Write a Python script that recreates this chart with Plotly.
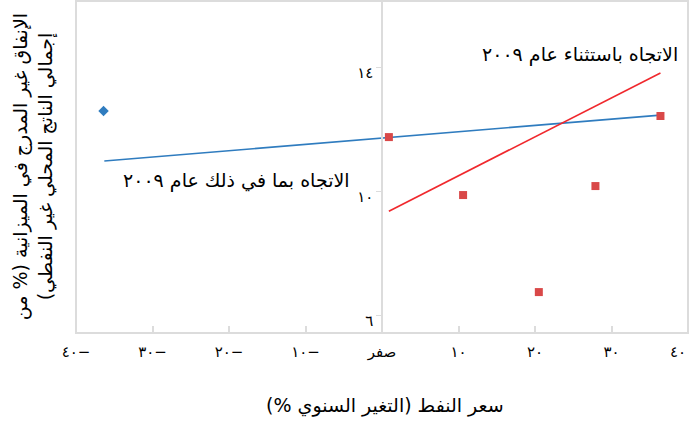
import plotly.graph_objects as go

# Data
x_2009 = [-36.4]
y_2009 = [12.58]
x_other = [0.9, 10.6, 20.5, 27.9, 36.4]
y_other = [11.74, 9.87, 6.74, 10.16, 12.42]

# Trend lines (endpoints)
trend_all_x = [-36.3, 36.4]
trend_all_y = [10.97, 12.45]
trend_ex_x = [0.9, 36.4]
trend_ex_y = [9.35, 13.81]

x_tickvals = [-40, -30, -20, -10, 0, 10, 20, 30, 40]
x_ticktext = ["٤٠−", "٣٠−", "٢٠−", "١٠−", "صفر", "١٠", "٢٠", "٣٠", "٤٠"]
y_tickvals = [6, 10, 14]
y_ticktext = ["٦", "١٠", "١٤"]

RLM = "\u200f"
FONT = "DejaVu Sans, sans-serif"

# last tick label is drawn right-aligned at the edge so it stays inside the page
axis_ticktext = x_ticktext[:-1] + [""]

fig = go.Figure()
fig.add_trace(go.Scatter(x=trend_all_x, y=trend_all_y, mode="lines",
                         line=dict(color="#2f7cbf", width=1.6), hoverinfo="skip"))
fig.add_trace(go.Scatter(x=trend_ex_x, y=trend_ex_y, mode="lines",
                         line=dict(color="#f0282d", width=1.6), hoverinfo="skip"))
fig.add_trace(go.Scatter(x=x_2009, y=y_2009, mode="markers",
                         marker=dict(symbol="diamond", size=8, color="#2f7cbf")))
fig.add_trace(go.Scatter(x=x_other, y=y_other, mode="markers",
                         marker=dict(symbol="square", size=8, color="#d94848")))

fig.add_annotation(x=38.9, y=14.39, xref="x", yref="y", showarrow=False,
                   text="الاتجاه باستثناء عام ٢٠٠٩", xanchor="right",
                   font=dict(size=19, color="black", family=FONT))
fig.add_annotation(x=-3.9, y=10.35, xref="x", yref="y", showarrow=False,
                   text="الاتجاه بما في ذلك عام ٢٠٠٩", xanchor="right",
                   font=dict(size=19, color="black", family=FONT))
fig.add_annotation(x=-0.07, y=0.5, xref="paper", yref="paper", showarrow=False,
                   textangle=-90, xanchor="center", yanchor="middle",
                   text=RLM + "الإنفاق غير المدرج في الميزانية (% من" + RLM + "<br>" + RLM
                        + "إجمالي الناتج المحلي غير النفطي)" + RLM,
                   font=dict(size=19, color="black", family=FONT))
fig.add_annotation(x=0.505, y=-0.217, xref="paper", yref="paper", showarrow=False,
                   xanchor="center", yanchor="middle",
                   text=RLM + "سعر النفط (التغير السنوي %)" + RLM,
                   font=dict(size=19, color="black", family=FONT))
fig.add_annotation(x=x_tickvals[-1], y=-0.058, xref="x", yref="paper", showarrow=False,
                   xanchor="right", yanchor="middle", xshift=0,
                   text=x_ticktext[-1],
                   font=dict(size=15, color="black", family=FONT))

fig.add_shape(type="rect", xref="paper", yref="paper", x0=0, x1=1, y0=0, y1=1,
              line=dict(color="#dcdcdc", width=2), layer="below")

fig.update_layout(
    width=690, height=423,
    margin=dict(l=76, r=2, t=1, b=90),
    paper_bgcolor="white", plot_bgcolor="white",
    showlegend=False,
    font=dict(family=FONT, size=14, color="black"),
    xaxis=dict(range=[-40, 40], tickvals=x_tickvals, ticktext=axis_ticktext,
               automargin=False, ticklabeloverflow="allow",
               showgrid=False, zeroline=False, showline=False,
               ticks="inside", ticklen=7, tickcolor="#dcdcdc", tickwidth=1.5,
               ticklabelstandoff=8,
               tickfont=dict(size=15)),
    yaxis=dict(range=[5.42, 16.13], tickvals=y_tickvals, ticktext=y_ticktext,
               anchor="free", position=0.5, automargin=False,
               showgrid=False, zeroline=False, showline=True,
               linecolor="#dcdcdc", linewidth=1.5,
               ticks="outside", ticklen=5, tickcolor="#dcdcdc",
               ticklabelshift=6,
               tickfont=dict(size=15)),
)

fig.write_html("out.html", config={"displayModeBar": False},
               post_script="document.body.style.margin='0';")
